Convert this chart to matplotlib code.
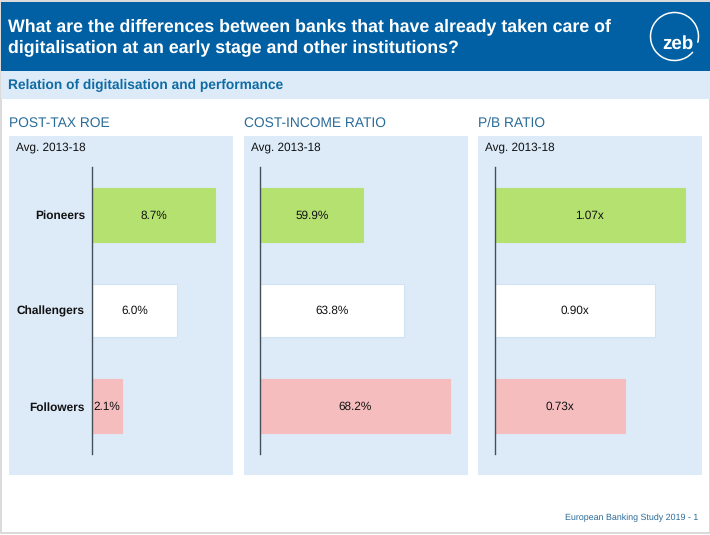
import matplotlib
matplotlib.use("Agg")
import matplotlib.pyplot as plt
from matplotlib.patches import Rectangle, Arc

plt.rcParams['font.family'] = ['Liberation Sans', 'DejaVu Sans']
plt.rcParams['text.hinting'] = 'no_hinting'
plt.rcParams['text.hinting_factor'] = 8

W, H = 710, 535
title = "What are the differences between banks that have already taken care of\ndigitalisation at an early stage and other institutions?"
subtitle = "Relation of digitalisation and performance"
footer = "European Banking Study 2019 - 1"
categories = ["Pioneers", "Challengers", "Followers"]
panel_titles = ["POST-TAX ROE", "COST-INCOME RATIO", "P/B RATIO"]
period = "Avg. 2013-18"
roe = [8.7, 6.0, 2.1]
cir = [59.9, 63.8, 68.2]
pb = [1.07, 0.90, 0.73]
roe_labels = ["8.7%", "6.0%", "2.1%"]
cir_labels = ["59.9%", "63.8%", "68.2%"]
pb_labels = ["1.07x", "0.90x", "0.73x"]

NAVY = "#0060A3"
BLUE = "#DDEBF9"
TXT = "#2A6C99"
colors = ["#B5E170", "#FFFFFF", "#F5BDBD"]
edges = ["#B5E170", "#D3E2F2", "#F5BDBD"]

fig = plt.figure(figsize=(W / 100, H / 100), dpi=100, facecolor="white")
bg = fig.add_axes([0, 0, 1, 1], zorder=0)
bg.set_xlim(0, W)
bg.set_ylim(H, 0)
bg.axis("off")

bg.add_patch(Rectangle((0.5, 0.5), W - 1, H - 2.5, fc="white", ec="#D4D4D4", lw=1.2))
bg.add_patch(Rectangle((1, 2), W - 1, 69, fc=NAVY, ec="none"))
bg.add_patch(Rectangle((1, 71), W - 1, 28, fc=BLUE, ec="none"))
bg.text(8.5, 37.5, title, color="white", fontsize=12.78, fontweight="bold",
        va="center", ha="left", linespacing=1.32)
bg.text(8, 85.5, subtitle, color="#0F6BA3", fontsize=9.87, fontweight="bold", va="center")
bg.add_patch(Arc((674.5, 36.5), 48, 48, theta1=40, theta2=15, ec="white", lw=1.1))
bg.text(678, 44, "zeb", color="white", fontsize=13.5, fontweight="bold", ha="center", va="center")
bg.text(698, 517.5, footer, color=TXT, fontsize=6.4, ha="right", va="center")

panels = [
    (9.4, 92.3, roe, roe_labels, 0.0, 14.15),
    (243.7, 260.3, cir, cir_labels, 50.0, 10.4),
    (478, 495, pb, pb_labels, 0.0, 177.5),
]
PANEL_W = 224
TOP, BOTTOM = 136, 474.5
AX_TOP, AX_BOTTOM = 167, 454
rows = [0, 1, 2]

for i, (px, ax_x, vals, labs, x0, scale) in enumerate(panels):
    bg.add_patch(Rectangle((px, TOP), PANEL_W, BOTTOM - TOP, fc=BLUE, ec="none"))
    bg.text(px, 123, panel_titles[i], color=TXT, fontsize=9.9, va="center", ha="left")
    bg.text(px + 7, 147, period, color="#111111", fontsize=8.5, va="center", ha="left")

    width_px = px + PANEL_W - ax_x
    ax = fig.add_axes([ax_x / W, 1 - AX_BOTTOM / H, width_px / W, (AX_BOTTOM - AX_TOP) / H], zorder=2)
    ax.patch.set_alpha(0)
    ax.set_xlim(x0, x0 + width_px / scale)
    ax.set_ylim(2.5, -0.5)
    ax.barh(rows, vals, left=0, height=0.56, color=colors, edgecolor=edges, linewidth=0.8)
    for r, v, s in zip(rows, vals, labs):
        ax.text((x0 + v) / 2, r + 0.005, s, ha="center", va="center", fontsize=8.5, color="#111111")
    for sp in ["top", "right", "bottom"]:
        ax.spines[sp].set_visible(False)
    ax.spines["left"].set_color("#44505A")
    ax.spines["left"].set_linewidth(1.0)
    ax.set_xticks([])
    ax.set_yticks(rows)
    if i == 0:
        ax.set_yticklabels(categories, fontsize=8.6, fontweight="bold", color="#111111")
    else:
        ax.set_yticklabels([])
    ax.tick_params(axis="y", length=0, pad=5.3)

fig.savefig("out.png", dpi=100, facecolor="white")
